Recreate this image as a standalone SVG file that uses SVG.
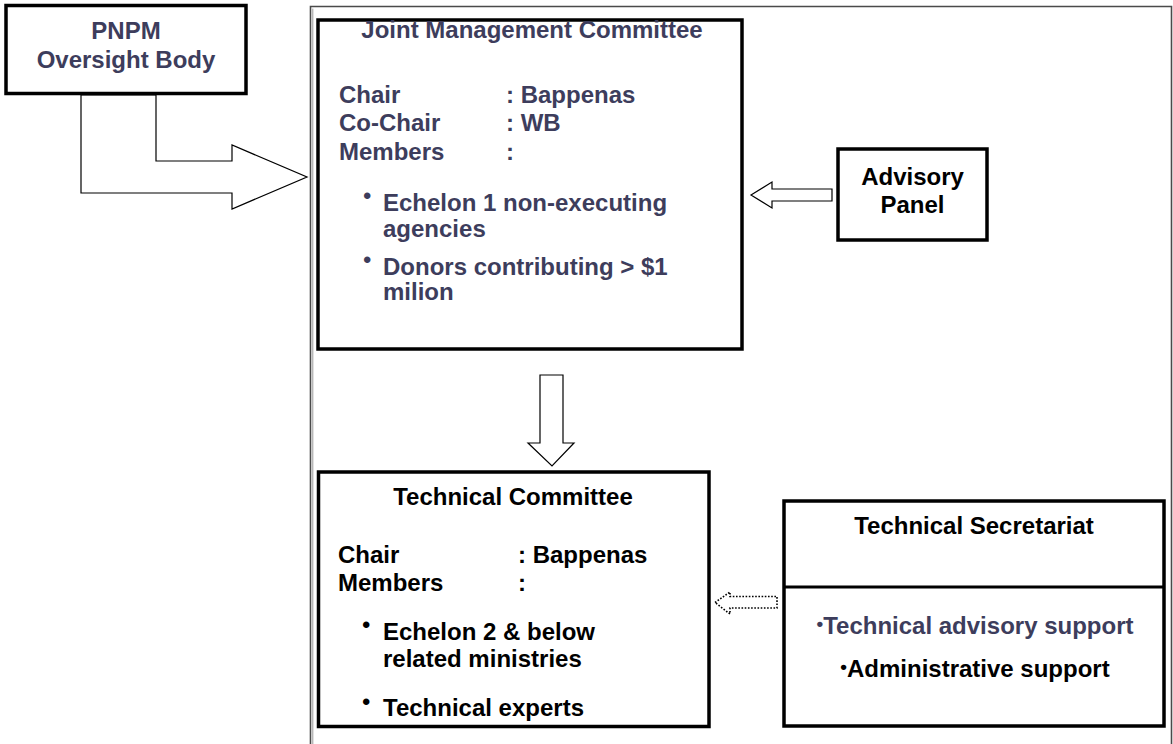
<svg xmlns="http://www.w3.org/2000/svg" width="1173" height="744" viewBox="0 0 1173 744">
<style>
.t{font-family:"Liberation Sans",Arial,sans-serif;font-weight:bold;font-size:24px}
.n{fill:#3d3d5c}
.k{fill:#000}
.c{text-anchor:middle}
.b{font-family:"Liberation Sans",Arial,sans-serif;font-size:24px}
.box{fill:#fff;stroke:#000;stroke-width:3.5}
.arr{fill:#fff;stroke:#000;stroke-width:1.2;stroke-linejoin:miter}
</style>
<rect width="1173" height="744" fill="#fff"/>
<g id="frame">
<path d="M310.5,750 V6.5 H1171.5 V750" fill="none" stroke="#4a4a4a" stroke-width="1.6"/>
<path d="M312.8,750 V8.6" fill="none" stroke="#9a9a9a" stroke-width="1"/>
</g>
<g id="connectors">
<polygon class="arr" points="81,95 81,193 232,193 232,209 307,177 232,145 232,161 156,161 156,95"/>
<polygon class="arr" points="751,195 772,182 772,189 832,189 832,201 772,201 772,208"/>
<polygon class="arr" points="540,375 563,375 563,443 574,443 552,466 528,443 540,443"/>
<polygon points="715,602.5 730,592 730,596.5 777,596.5 777,608 730,608 730,614" fill="#fff" stroke="#000" stroke-width="1.6" stroke-dasharray="1.6,1.6"/>
</g>
<g id="pnpm">
<rect class="box" x="6" y="5.5" width="240" height="88"/>
<text class="t n c" x="126" y="39">PNPM</text>
<text class="t n c" x="126" y="68">Oversight Body</text>
</g>
<g id="jmc">
<rect class="box" x="318" y="20" width="424" height="329"/>
<text class="t n c" x="532" y="38">Joint Management Committee</text>
<text class="t n" x="339" y="103">Chair</text>
<text class="t n" x="506" y="103">: Bappenas</text>
<text class="t n" x="339" y="131">Co-Chair</text>
<text class="t n" x="506" y="131">: WB</text>
<text class="t n" x="339" y="160">Members</text>
<text class="t n" x="506" y="160">:</text>
<text class="b n" x="363" y="204">•</text>
<text class="t n" x="383" y="211">Echelon 1 non-executing</text>
<text class="t n" x="383" y="237">agencies</text>
<text class="b n" x="363" y="268">•</text>
<text class="t n" x="383" y="275">Donors contributing &gt; $1</text>
<text class="t n" x="383" y="300">milion</text>
</g>
<g id="advisory">
<rect class="box" x="838" y="149" width="149" height="91" stroke-width="3"/>
<text class="t k c" x="912.5" y="185">Advisory</text>
<text class="t k c" x="912.5" y="213">Panel</text>
</g>
<g id="tc">
<rect class="box" x="318.5" y="472" width="390.5" height="254.5" stroke-width="3"/>
<text class="t k c" x="513" y="505">Technical Committee</text>
<text class="t k" x="338" y="563">Chair</text>
<text class="t k" x="518" y="563">: Bappenas</text>
<text class="t k" x="338" y="591">Members</text>
<text class="t k" x="518" y="591">:</text>
<text class="b k" x="362" y="633">•</text>
<text class="t k" x="383" y="640">Echelon 2 &amp; below</text>
<text class="t k" x="383" y="667">related ministries</text>
<text class="b k" x="362" y="710">•</text>
<text class="t k" x="383" y="716">Technical experts</text>
</g>
<g id="ts">
<rect class="box" x="784" y="501" width="380" height="225" stroke-width="3"/>
<line x1="784" y1="587" x2="1164" y2="587" stroke="#000" stroke-width="3"/>
<text class="t k c" x="974" y="534">Technical Secretariat</text>
<text class="t n c" x="975" y="634"><tspan font-size="19" dy="-4">•</tspan><tspan dy="4">Technical advisory support</tspan></text>
<text class="t k c" x="975" y="677"><tspan font-size="19" dy="-4">•</tspan><tspan dy="4">Administrative support</tspan></text>
</g>
</svg>
